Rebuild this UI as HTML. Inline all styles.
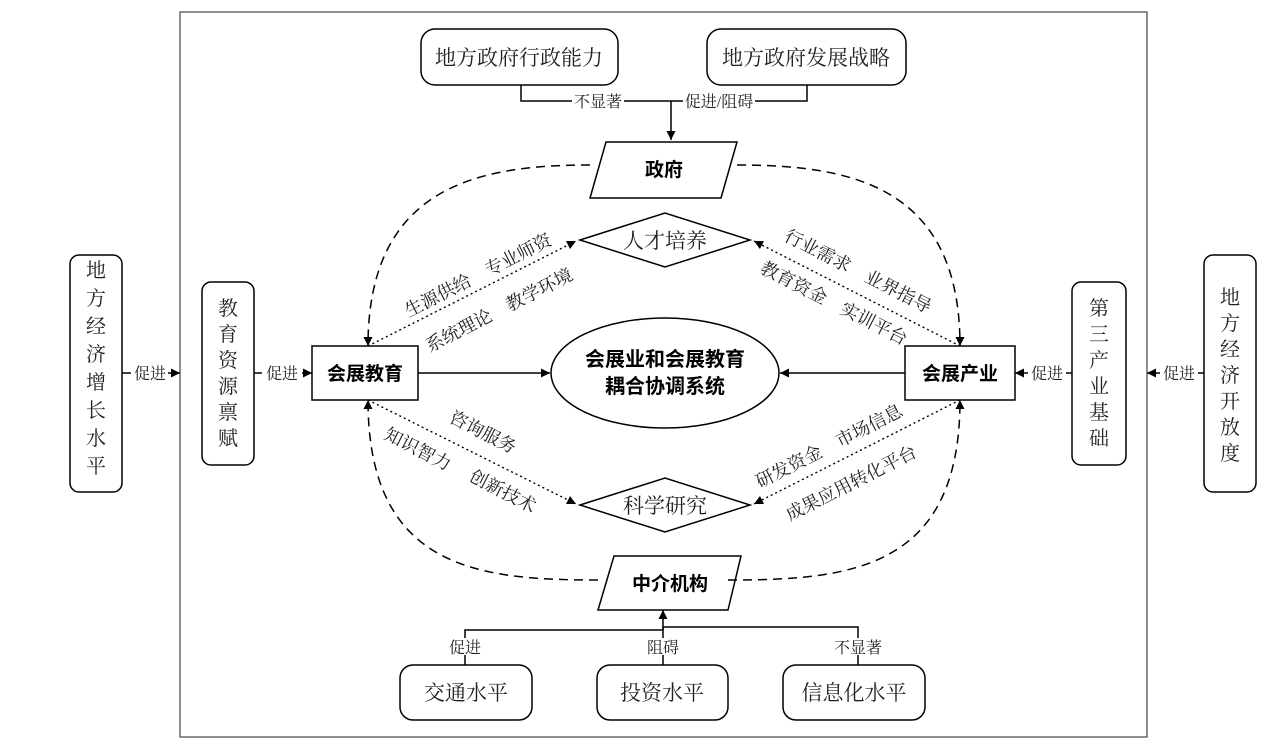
<!DOCTYPE html>
<html><head><meta charset="utf-8"><style>
html,body{margin:0;padding:0;background:#fff}
svg{display:block}
text{font-family:"Liberation Serif","Noto Serif CJK SC","Noto Sans CJK SC",serif;fill:#222}
.b{font-family:"Liberation Sans","Noto Sans CJK SC",sans-serif;font-weight:bold;fill:#000}
</style></head><body>
<svg width="1269" height="750" viewBox="0 0 1269 750" xmlns="http://www.w3.org/2000/svg">
<defs>
<marker id="a" viewBox="0 0 10 10" refX="10" refY="5" markerWidth="9" markerHeight="9" markerUnits="userSpaceOnUse" orient="auto"><path d="M0,0L10,5L0,10z" fill="#000"/></marker>
</defs>
<g stroke="#000" stroke-width="1.5" fill="none">
<rect x="180" y="12" width="967" height="725" stroke="#444" stroke-width="1.2"/>
<rect x="421" y="29" width="197" height="56" rx="14"/>
<rect x="707" y="29" width="199" height="56" rx="14"/>
<path d="M521,85V101H572M624,101H683M755,101H807V85"/>
<path d="M671,101V140" marker-end="url(#a)"/>
<path d="M606,142H737L721,198H590Z"/>
<path d="M614,556H741L728,610H598Z"/>
<rect x="400" y="665" width="132" height="55" rx="13"/>
<rect x="597" y="665" width="131" height="55" rx="13"/>
<rect x="783" y="665" width="142" height="55" rx="13"/>
<path d="M465,665V655M465,638V630H663V627H858V638M858,655V665M663,638V630M663,655V665"/>
<path d="M663,630V610" marker-end="url(#a)"/>
<path d="M580,240L665,213L750,240L665,267Z"/>
<path d="M580,505L665,478L750,505L665,532Z"/>
<ellipse cx="665" cy="373" rx="114" ry="55"/>
<rect x="312" y="346" width="106" height="54"/>
<rect x="905" y="346" width="110" height="54"/>
<rect x="202" y="282" width="52" height="183" rx="9"/>
<rect x="1072" y="282" width="54" height="183" rx="9"/>
<rect x="70" y="255" width="52" height="237" rx="9"/>
<rect x="1204" y="255" width="52" height="237" rx="9"/>
<path d="M418,373H550" marker-end="url(#a)"/>
<path d="M905,373H780" marker-end="url(#a)"/>
<path d="M122,373H131M168,373H180" marker-end="url(#a)"/>
<path d="M254,373H262M302,373H312" marker-end="url(#a)"/>
<path d="M1072,373H1066M1028,373H1015" marker-end="url(#a)"/>
<path d="M1204,373H1198M1160,373H1147" marker-end="url(#a)"/>
<g stroke-dasharray="9,6">
<path d="M590,165C480,165 368,185 368,346" marker-end="url(#a)"/>
<path d="M737,165C850,165 960,185 960,346" marker-end="url(#a)"/>
<path d="M598,580C480,580 368,570 368,400" marker-end="url(#a)"/>
<path d="M728,580C850,580 960,570 960,400" marker-end="url(#a)"/>
</g>
<g stroke-dasharray="2,3" stroke-width="1.4">
<path d="M368,346L576,241" marker-end="url(#a)"/>
<path d="M960,346L754,241" marker-end="url(#a)"/>
<path d="M368,400L576,504" marker-end="url(#a)"/>
<path d="M960,400L754,504" marker-end="url(#a)"/>
</g>
</g>
<g font-size="21" text-anchor="middle">
<text x="519" y="65">地方政府行政能力</text>
<text x="806" y="65">地方政府发展战略</text>
<text x="466" y="700">交通水平</text>
<text x="662" y="700">投资水平</text>
<text x="854" y="700">信息化水平</text>
<text x="665" y="248">人才培养</text>
<text x="665" y="513">科学研究</text>
</g>
<g font-size="16" text-anchor="middle">
<text x="598" y="107">不显著</text>
<text x="719" y="107">促进/阻碍</text>
<text x="465" y="653">促进</text>
<text x="663" y="653">阻碍</text>
<text x="858" y="653">不显著</text>
<text x="150" y="379">促进</text>
<text x="282" y="379">促进</text>
<text x="1047" y="379">促进</text>
<text x="1179" y="379">促进</text>
</g>
<g class="b" font-size="19" text-anchor="middle">
<text class="b" x="664" y="176">政府</text>
<text class="b" x="670" y="590">中介机构</text>
<text class="b" x="365" y="380">会展教育</text>
<text class="b" x="960" y="380">会展产业</text>
<text class="b" x="665" y="366" font-size="20">会展业和会展教育</text>
<text class="b" x="665" y="393" font-size="20">耦合协调系统</text>
</g>
<g font-size="20" text-anchor="middle">
<text x="228" y="315">教</text><text x="228" y="341">育</text><text x="228" y="367">资</text><text x="228" y="393">源</text><text x="228" y="419">禀</text><text x="228" y="445">赋</text>
<text x="1099" y="315">第</text><text x="1099" y="341">三</text><text x="1099" y="367">产</text><text x="1099" y="393">业</text><text x="1099" y="419">基</text><text x="1099" y="445">础</text>
<text x="96" y="277">地</text><text x="96" y="305">方</text><text x="96" y="333">经</text><text x="96" y="361">济</text><text x="96" y="389">增</text><text x="96" y="417">长</text><text x="96" y="445">水</text><text x="96" y="473">平</text>
<text x="1230" y="304">地</text><text x="1230" y="330">方</text><text x="1230" y="356">经</text><text x="1230" y="382">济</text><text x="1230" y="408">开</text><text x="1230" y="434">放</text><text x="1230" y="460">度</text>
</g>
<g font-size="18" text-anchor="middle">
<text dy="0.35em" transform="translate(478,275) rotate(-27)">生源供给　专业师资</text>
<text dy="0.35em" transform="translate(499,310) rotate(-27)">系统理论　教学环境</text>
<text dy="0.35em" transform="translate(858,271) rotate(27)">行业需求　业界指导</text>
<text dy="0.35em" transform="translate(834,303) rotate(27)">教育资金　实训平台</text>
<text dy="0.35em" transform="translate(483,432) rotate(27)">咨询服务</text>
<text dy="0.35em" transform="translate(418,449) rotate(27)">知识智力</text>
<text dy="0.35em" transform="translate(503,491) rotate(27)">创新技术</text>
<text dy="0.35em" transform="translate(829,446) rotate(-27)">研发资金　市场信息</text>
<text dy="0.35em" transform="translate(851,483) rotate(-27)">成果应用转化平台</text>
</g>
</svg>
</body></html>
